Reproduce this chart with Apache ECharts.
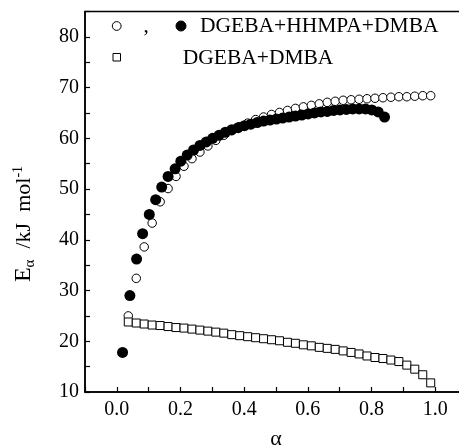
<!DOCTYPE html>
<html>
<head>
<meta charset="utf-8">
<script src="https://cdn.jsdelivr.net/npm/echarts@6/dist/echarts.min.js"></script>
<style>
  html, body { margin: 0; padding: 0; background: #fff; }
  #chart { width: 459px; height: 446px; }
</style>
</head>
<body>
<div id="chart"></div>
<script>
// Conversion grid shared by the open-circle and square series
const alphaGrid = [0.036, 0.061, 0.086, 0.111, 0.136, 0.161, 0.186, 0.211, 0.236, 0.261,
  0.286, 0.311, 0.336, 0.361, 0.386, 0.411, 0.436, 0.461, 0.486, 0.511,
  0.536, 0.561, 0.586, 0.611, 0.636, 0.661, 0.686, 0.711, 0.736, 0.761,
  0.786, 0.811, 0.836, 0.861, 0.886, 0.911, 0.936, 0.961, 0.986];

// DGEBA+HHMPA+DMBA, open circles (kJ/mol)
const anhydrideOpenE = [25.0, 32.4, 38.6, 43.3, 47.5, 50.1, 52.5, 54.5, 56.0, 57.3,
  58.5, 59.6, 60.6, 61.5, 62.3, 63.0, 63.7, 64.2, 64.7, 65.1,
  65.5, 65.9, 66.2, 66.5, 66.8, 67.1, 67.3, 67.5, 67.6, 67.7,
  67.8, 67.9, 68.0, 68.1, 68.2, 68.2, 68.3, 68.4, 68.4];

// DGEBA+HHMPA+DMBA, filled circles
const filledAlpha = [0.018, 0.041, 0.062, 0.081, 0.102, 0.122, 0.141, 0.161, 0.183, 0.201,
  0.221, 0.241, 0.261, 0.281, 0.301, 0.321, 0.341, 0.361, 0.381, 0.401,
  0.421, 0.441, 0.461, 0.481, 0.501, 0.521, 0.541, 0.561, 0.581, 0.601,
  0.621, 0.641, 0.661, 0.681, 0.701, 0.721, 0.741, 0.761, 0.781, 0.801,
  0.821, 0.841];
const anhydrideFilledE = [17.8, 29.0, 36.2, 41.2, 45.0, 47.9, 50.4, 52.5, 54.0, 55.5,
  56.7, 57.7, 58.6, 59.3, 60.0, 60.6, 61.2, 61.7, 62.1, 62.5,
  62.8, 63.1, 63.4, 63.6, 63.8, 64.0, 64.2, 64.4, 64.6, 64.8,
  65.0, 65.2, 65.3, 65.5, 65.6, 65.7, 65.8, 65.8, 65.8, 65.6,
  65.2, 64.2];

// DGEBA+DMBA, open squares
const dmbaE = [23.8, 23.6, 23.4, 23.2, 23.1, 22.9, 22.7, 22.6, 22.4, 22.2,
  22.0, 21.8, 21.6, 21.3, 21.1, 20.9, 20.7, 20.5, 20.3, 20.1,
  19.8, 19.6, 19.3, 19.1, 18.8, 18.6, 18.4, 18.1, 17.8, 17.5,
  17.1, 16.8, 16.6, 16.3, 16.0, 15.3, 14.5, 13.4, 11.8];

const xTickLabels = ['0.0', '0.2', '0.4', '0.6', '0.8', '1.0'];
const yTickLabels = ['10', '20', '30', '40', '50', '60', '70', '80'];

const legendNames = ['DGEBA+HHMPA+DMBA', 'DGEBA+DMBA'];

const SERIF = '"Liberation Serif", "Times New Roman", serif';

function pairs(xs, ys) {
  return xs.map((x, i) => [x, ys[i]]);
}

const chart = echarts.init(document.getElementById('chart'), null, { renderer: 'canvas' });

const axisCommon = {
  type: 'value',
  axisLine: { show: true, onZero: false, lineStyle: { color: '#000', width: 1.5 } },
  axisTick: { show: true, inside: true, length: 5, lineStyle: { color: '#000', width: 1.2 } },
  splitLine: { show: false },
  minorTick: { show: false }
};

chart.setOption({
  backgroundColor: '#fff',
  animation: false,
  grid: {
    left: 85, right: -8, top: 11.5, bottom: 54,
    outerBoundsMode: 'none', containLabel: false,
    show: true, borderColor: '#000', borderWidth: 1.5, backgroundColor: 'transparent'
  },
  xAxis: Object.assign({}, axisCommon, {
    min: -0.1, max: 1.1, interval: 0.1,
    name: 'α', nameLocation: 'middle', nameGap: 36,
    nameTextStyle: { fontFamily: SERIF, fontSize: 22, color: '#000' },
    axisLabel: {
      color: '#000', fontFamily: SERIF, fontSize: 20, margin: 8,
      showMinLabel: true, showMaxLabel: true,
      formatter: v => {
        const s = (Math.round(v * 10) / 10).toFixed(1);
        return xTickLabels.includes(s) ? s : '';
      }
    }
  }),
  yAxis: Object.assign({}, axisCommon, {
    min: 10, max: 85, interval: 5,
    axisLabel: {
      color: '#000', fontFamily: SERIF, fontSize: 20, margin: 6,
      formatter: v => {
        const s = String(Math.round(v));
        return yTickLabels.includes(s) ? s : '';
      }
    }
  }),
  graphic: [
    // axis title on the left, reading bottom to top
    {
      type: 'text', x: 24, y: 224, rotation: Math.PI / 2,
      style: {
        text: '{e|E}{s|α}{t|  /kJ  mol}{p|-1}',
        align: 'center', verticalAlign: 'middle', fill: '#000',
        fontFamily: SERIF, fontSize: 22,
        rich: {
          e: { fontFamily: SERIF, fontSize: 24, fill: '#000' },
          s: { fontFamily: SERIF, fontSize: 15, fill: '#000', padding: [12, 0, 0, 0] },
          t: { fontFamily: SERIF, fontSize: 22, fill: '#000' },
          p: { fontFamily: SERIF, fontSize: 14, fill: '#000', padding: [0, 0, 12, 0] }
        }
      }
    },
    // key, first row
    { type: 'circle', shape: { cx: 116.7, cy: 26, r: 4.4 },
      style: { fill: '#fff', stroke: '#000', lineWidth: 1 } },
    { type: 'text', x: 146, y: 26,
      style: { text: ',', fontFamily: SERIF, fontSize: 21, fill: '#000', align: 'center', verticalAlign: 'middle' } },
    { type: 'circle', shape: { cx: 181, cy: 26, r: 5 },
      style: { fill: '#000', stroke: '#000', lineWidth: 1 } },
    { type: 'text', x: 200, y: 26.5,
      style: { text: legendNames[0], fontFamily: SERIF, fontSize: 21.5, fill: '#000', align: 'left', verticalAlign: 'middle' } },
    // key, second row
    { type: 'rect', shape: { x: 113, y: 53.5, width: 7.5, height: 7.5 },
      style: { fill: '#fff', stroke: '#000', lineWidth: 1 } },
    { type: 'text', x: 182.7, y: 58.8,
      style: { text: legendNames[1], fontFamily: SERIF, fontSize: 21.5, fill: '#000', align: 'left', verticalAlign: 'middle' } }
  ],
  series: [
    {
      name: legendNames[0] + ' (open)',
      type: 'scatter',
      data: pairs(alphaGrid, anhydrideOpenE),
      symbol: 'circle', symbolSize: 8.5,
      itemStyle: { color: '#fff', borderColor: '#000', borderWidth: 1, opacity: 1 },
      z: 2
    },
    {
      name: legendNames[1],
      type: 'scatter',
      data: pairs(alphaGrid, dmbaE),
      symbol: 'rect', symbolSize: 8,
      itemStyle: { color: '#fff', borderColor: '#000', borderWidth: 1, opacity: 1 },
      z: 3
    },
    {
      name: legendNames[0] + ' (filled)',
      type: 'scatter',
      data: pairs(filledAlpha, anhydrideFilledE),
      symbol: 'circle', symbolSize: 11,
      itemStyle: { color: '#000', borderColor: '#000', borderWidth: 0, opacity: 1 },
      z: 4
    }
  ]
});
</script>
</body>
</html>
